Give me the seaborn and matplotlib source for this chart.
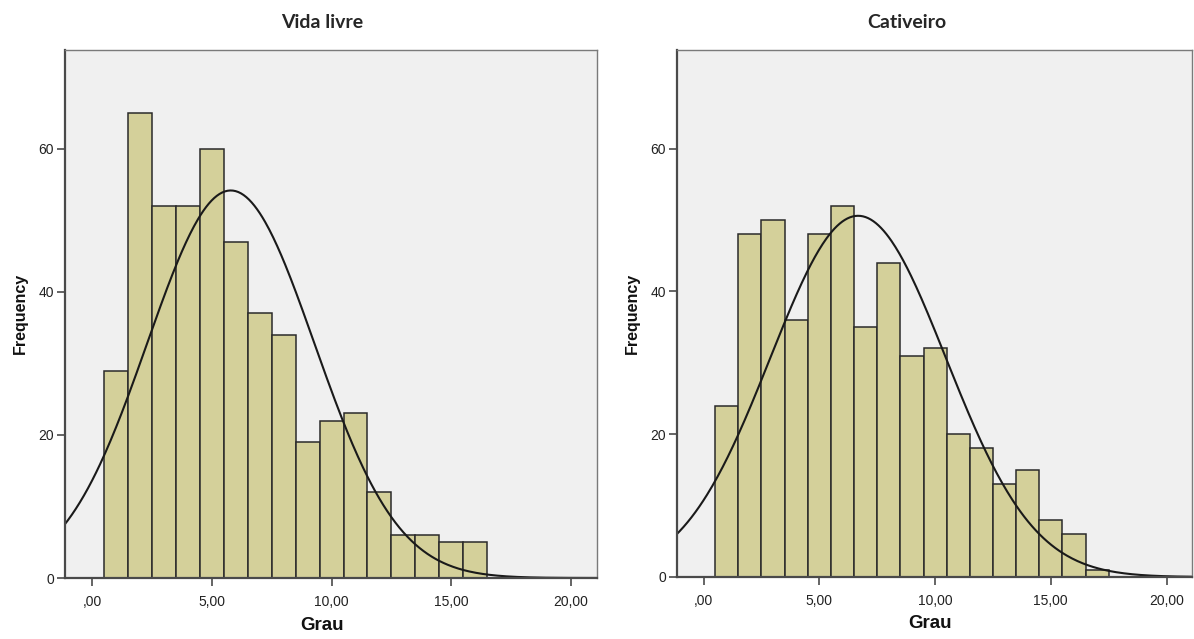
import numpy as np
import pandas as pd
import seaborn as sns
import matplotlib
matplotlib.use("Agg")
import matplotlib.pyplot as plt

# Degree values (integer bins) and their frequencies for each group
grau_vida_livre = [1, 2, 3, 4, 5, 6, 7, 8, 9, 10, 11, 12, 13, 14, 15, 16]
freq_vida_livre = [29, 65, 52, 52, 60, 47, 37, 34, 19, 22, 23, 12, 6, 6, 5, 5]

grau_cativeiro = [1, 2, 3, 4, 5, 6, 7, 8, 9, 10, 11, 12, 13, 14, 15, 16, 17]
freq_cativeiro = [24, 48, 50, 36, 48, 52, 35, 44, 31, 32, 20, 18, 13, 15, 8, 6, 1]

titles = ["Vida livre", "Cativeiro"]
xticks = [0, 5, 10, 15, 20]
xtick_labels = [",00", "5,00", "10,00", "15,00", "20,00"]
yticks = [0, 20, 40, 60]
ytick_labels = ["0", "20", "40", "60"]

sns.set_style("white")
plt.rcParams["font.family"] = ["Liberation Sans", "DejaVu Sans"]

BAR = "#d4d09a"
EDGE = "#2a2a2a"
PANEL = "#f0f0f0"
SPINE = "#4a4a4a"

fig = plt.figure(figsize=(11.94, 6.39), dpi=100)
fig.patch.set_facecolor("white")

W, H = 1194, 639
def box(x0, x1, y0, y1):
    return [x0 / W, 1 - y1 / H, (x1 - x0) / W, (y1 - y0) / H]

panels = [
    dict(rect=box(65, 597, 50, 578), grau=grau_vida_livre, freq=freq_vida_livre,
         title_xy=(322, 22), ylab_xy=(20, 313), xlab_xy=(322, 626)),
    dict(rect=box(677, 1192, 50, 577), grau=grau_cativeiro, freq=freq_cativeiro,
         title_xy=(907, 22), ylab_xy=(632, 313), xlab_xy=(930, 624)),
]

for p, title in zip(panels, titles):
    ax = fig.add_axes(p["rect"])
    ax.set_facecolor(PANEL)
    df = pd.DataFrame({"Grau": p["grau"], "Frequency": p["freq"]})
    sns.histplot(data=df, x="Grau", weights="Frequency", discrete=True,
                 color=BAR, alpha=1, edgecolor=EDGE, linewidth=1.1, ax=ax)

    # Normal curve scaled to the histogram (mean and sd of the binned data)
    g = np.asarray(p["grau"], float)
    f = np.asarray(p["freq"], float)
    n = f.sum()
    mu = (g * f).sum() / n
    sd = np.sqrt((f * (g - mu) ** 2).sum() / (n - 1))
    xs = np.linspace(-1.2, 21.2, 400)
    ys = n * 1.0 / (sd * np.sqrt(2 * np.pi)) * np.exp(-0.5 * ((xs - mu) / sd) ** 2)
    sns.lineplot(x=xs, y=ys, color="#1a1a1a", linewidth=1.5, ax=ax)

    ax.set_xlim(-1.15, 21.1)
    ax.set_ylim(0, 73.8)
    ax.set_xticks(xticks)
    ax.set_xticklabels(xtick_labels)
    ax.set_yticks(yticks)
    ax.set_yticklabels(ytick_labels)
    ax.tick_params(axis="both", which="major", bottom=True, left=True,
                   top=False, right=False, direction="out", length=6,
                   width=1.2, color=SPINE, labelsize=10, labelcolor="#222222",
                   pad=2)
    ax.tick_params(axis="x", pad=6)
    ax.set_xlabel("")
    ax.set_ylabel("")
    for side, sp in ax.spines.items():
        sp.set_visible(True)
        sp.set_color(SPINE if side in ("left", "bottom") else "#7a7a7a")
        sp.set_linewidth(1.6 if side in ("left", "bottom") else 1.0)

    tx, ty = p["title_xy"]
    fig.text(tx / W, 1 - ty / H, title, ha="center", va="center",
             fontsize=14, fontweight="bold", family=["Lato", "DejaVu Sans"])
    lx, ly = p["ylab_xy"]
    fig.text(lx / W, 1 - ly / H, "Frequency", ha="center", va="center",
             rotation=90, fontsize=11.5, fontweight="bold", color="#111111")
    gx, gy = p["xlab_xy"]
    fig.text(gx / W, 1 - gy / H, "Grau", ha="center", va="center",
             fontsize=13.5, fontweight="bold", color="#111111")

fig.savefig("out.png", dpi=100, facecolor="white")
